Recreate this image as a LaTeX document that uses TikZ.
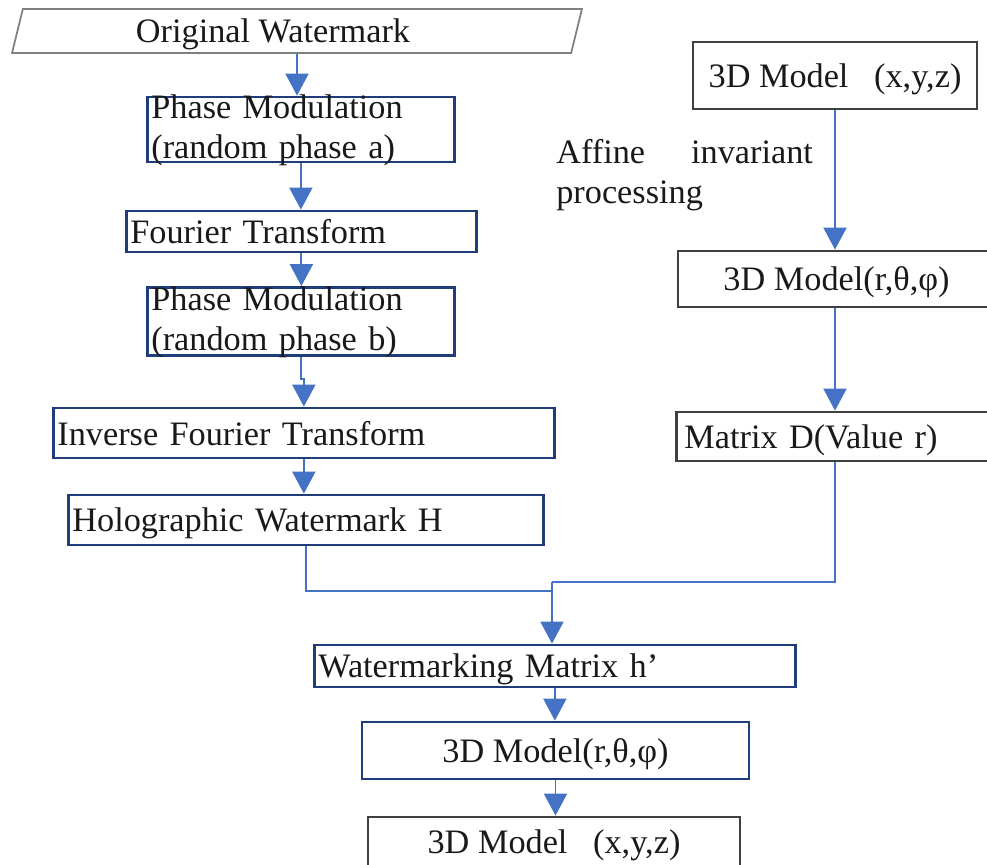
\documentclass[tikz,border=0pt]{standalone}
\usepackage{fontspec}
\setmainfont{Liberation Serif}
\usetikzlibrary{arrows.meta,shapes.geometric}

\definecolor{linkblue}{RGB}{68,114,196}
\definecolor{boxblue}{RGB}{31,61,122}
\definecolor{boxgray}{RGB}{64,64,64}

\begin{document}
\begin{tikzpicture}[x=0.02cm, y=-0.02cm,
    every node/.style={font=\fontsize{19.5pt}{22.8pt}\selectfont, text=black!90},
    lbox/.style={draw=boxblue, line width=1.6pt, rectangle, anchor=west,
      inner xsep=0.08cm, inner ysep=0pt, text depth=0pt, align=left},
    twoline/.style={text height=0.4cm, text depth=0.84cm},
    cbox/.style={draw=boxblue, line width=1.6pt, rectangle,
      inner sep=0pt, text depth=0pt, align=center},
    gbox/.style={draw=boxgray, line width=1.6pt, rectangle,
      inner sep=0pt, text depth=0pt, align=center},
    glbox/.style={draw=boxgray, line width=1.6pt, rectangle, anchor=west,
      inner xsep=0.16cm, inner ysep=0pt, text depth=0pt, align=left},
    iobox/.style={draw=gray, line width=1pt, trapezium, trapezium left angle=65.6,
      trapezium right angle=114.4, trapezium stretches body, inner sep=0pt, text depth=0pt},
    link/.style={draw=linkblue, line width=1.1pt},
    flow/.style={link, -{Triangle[width=0.46cm,length=0.44cm]}}]

    \useasboundingbox (0,0) rectangle (987,865);

    % Left column
    \node[iobox, minimum width=11.4cm, minimum height=0.88cm] (orig) at (297,31)
      {Original Watermark\hspace*{0.96cm}\mbox{}};
    \node[lbox, twoline, text width=5.98cm, minimum height=1.3cm] (pma) at (146,129.5)
      {Phase Modulation\\(random phase a)};
    \node[lbox, text width=6.84cm, minimum height=0.82cm] (ft) at (125,231.5)
      {Fourier Transform};
    \node[lbox, twoline, text width=5.98cm, minimum height=1.36cm] (pmb) at (146,321.5)
      {Phase Modulation\\(random phase b)};
    \node[lbox, text width=9.86cm, minimum height=1.0cm] (ift) at (52,433)
      {Inverse Fourier Transform};
    \node[lbox, text width=9.34cm, minimum height=1.0cm] (holo) at (67,520)
      {Holographic Watermark H};

    % Right column
    \node[gbox, minimum width=5.68cm, minimum height=1.34cm] (xyz1) at (835,75.5)
      {3D Model\hspace{0.5em} (x,y,z)};
    \node[anchor=north west, inner sep=0pt, align=left] (affine) at (556,139)
      {Affine\hspace{0.75cm} invariant\\processing};
    \node[gbox, minimum width=6.34cm, minimum height=1.12cm] (rtp1) at (836.5,279)
      {3D Model(r,θ,φ)};
    \node[glbox, text width=6.08cm, minimum height=0.98cm] (matd) at (675,436.5)
      {Matrix D(Value r)};

    % Bottom column
    \node[lbox, text width=9.46cm, minimum height=0.84cm] (wmm) at (313,666)
      {Watermarking Matrix h’};
    \node[cbox, minimum width=7.74cm, minimum height=1.14cm] (rtp2) at (555.5,750.5)
      {3D Model(r,θ,φ)};
    \node[gbox, minimum width=7.44cm, minimum height=1.0cm] (xyz2) at (554,842)
      {3D Model\hspace{0.5em} (x,y,z)};

    % Junction points
    \coordinate (joinl) at (552,591);
    \coordinate (join) at (552,582);

    % Arrows
    \draw[flow] (orig) -- (orig |- pma.north);
    \draw[flow] (pma.south) -- (pma.south |- ft.north);
    \draw[flow] (ft.south) -- (ft.south |- pmb.north);
    \draw[flow] (pmb.south) -- ++(0,22) -| (ift.north);
    \draw[flow] (ift.south) -- (ift.south |- holo.north);
    \draw[link] (holo.south) |- (joinl);

    \draw[flow] (xyz1.south) -- (xyz1.south |- rtp1.north);
    \draw[flow] (rtp1.south -| xyz1.south) -- (xyz1.south |- matd.north);
    \draw[link] (matd.south -| xyz1.south) |- (join);

    \draw[flow] (join) -- (join |- wmm.north);
    \draw[flow] (wmm.south) -- (wmm.south |- rtp2.north);
    \draw[flow] (rtp2.south) -- (rtp2.south |- xyz2.north);
  \end{tikzpicture}
\end{document}
